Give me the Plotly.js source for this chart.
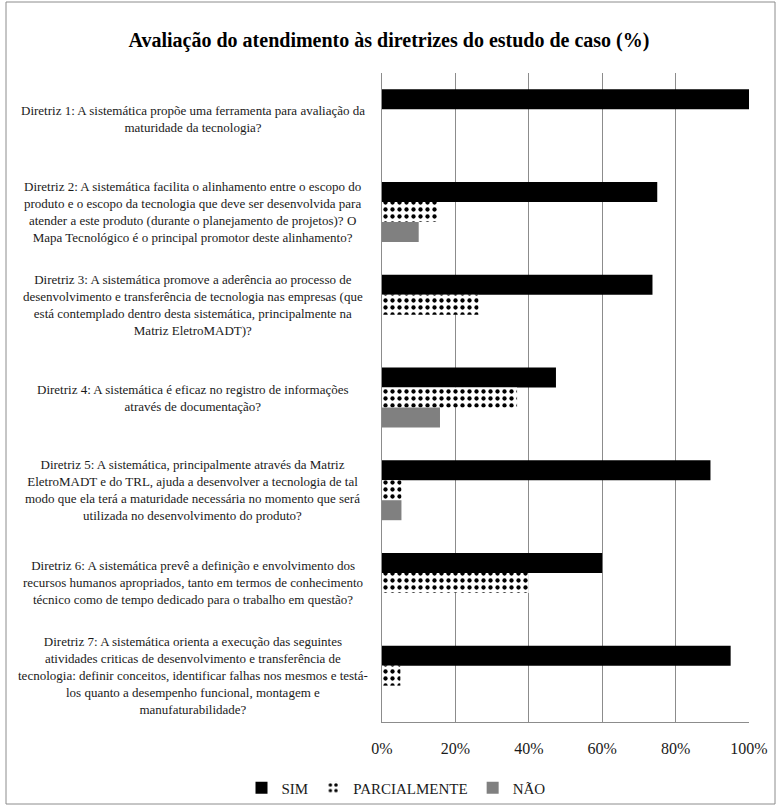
<!DOCTYPE html>
<html>
<head>
<meta charset="utf-8">
<script src="https://cdn.plot.ly/plotly-3.0.1.min.js"></script>
<style>html,body{margin:0;padding:0;background:#fff;}#chart{width:778px;height:807px;}</style>
</head>
<body>
<div id="chart"></div>
<script>
// Data
const categories = ["D1", "D2", "D3", "D4", "D5", "D6", "D7"];
const categoryLabels = [
  "Diretriz 1: A sistemática propõe uma ferramenta para avaliação da<br>maturidade da tecnologia?",
  "Diretriz 2: A sistemática facilita o alinhamento entre o escopo do<br>produto e o escopo da tecnologia que deve ser desenvolvida para<br>atender a este produto (durante o planejamento de projetos)? O<br>Mapa Tecnológico é o principal promotor deste alinhamento?",
  "Diretriz 3: A sistemática promove a aderência ao processo de<br>desenvolvimento e transferência de tecnologia nas empresas (que<br>está contemplado dentro desta sistemática, principalmente na<br>Matriz EletroMADT)?",
  "Diretriz 4: A sistemática é eficaz no registro de informações<br>através de documentação?",
  "Diretriz 5: A sistemática, principalmente através da Matriz<br>EletroMADT e do TRL, ajuda a desenvolver a tecnologia de tal<br>modo que ela terá a maturidade necessária no momento que será<br>utilizada no desenvolvimento do produto?",
  "Diretriz 6: A sistemática prevê a definição e envolvimento dos<br>recursos humanos apropriados, tanto em termos de conhecimento<br>técnico como de tempo dedicado para o trabalho em questão?",
  "Diretriz 7: A sistemática orienta a execução das seguintes<br>atividades criticas de desenvolvimento e transferência de<br>tecnologia: definir conceitos, identificar falhas nos mesmos e testá-<br>los quanto a desempenho funcional, montagem e<br>manufaturabilidade?"
];
const sim = [100, 75, 73.7, 47.4, 89.5, 60, 95];
const parcialmente = [0, 15, 26.3, 36.8, 5.3, 40, 5];
const nao = [0, 10, 0, 15.8, 5.3, 0, 0];
const seriesNames = ["SIM", "PARCIALMENTE", "NÃO"];
const xTickVals = [0, 20, 40, 60, 80, 100];
const xTickText = ["0%", "20%", "40%", "60%", "80%", "100%"];

// Layout geometry (pixels)
const W = 778, H = 807;
const PL = 382, PR = 749, PT = 73, PB = 722;
const pw = PR - PL, ph = PB - PT;
const px2x = p => (p - PL) / pw;
const py2y = p => (PB - p) / ph;

const serif = "'Liberation Serif', 'Times New Roman', Tinos, 'DejaVu Serif', serif";

const traces = [
  {type: "bar", orientation: "h", name: seriesNames[0], y: categories, x: sim,
   marker: {color: "#000000"}, hoverinfo: "x"},
  {type: "bar", orientation: "h", name: seriesNames[1], y: categories, x: parcialmente,
   marker: {color: "#ffffff", pattern: {shape: ".", fgcolor: "#000000", bgcolor: "#ffffff", size: 7, solidity: 0.3, fillmode: "replace"}}, hoverinfo: "x"},
  {type: "bar", orientation: "h", name: seriesNames[2], y: categories, x: nao,
   marker: {color: "#808080"}, hoverinfo: "x"}
];

const annotations = categories.map((c, i) => ({
  xref: "paper", yref: "y", x: px2x(193), y: c,
  xanchor: "center", yanchor: "middle", align: "center",
  text: categoryLabels[i], showarrow: false,
  font: {family: serif, size: 13, color: "#1a1a1a"}
}));

const layout = {
  width: W, height: H,
  margin: {l: PL, r: W - PR, t: PT, b: H - PB, pad: 0, autoexpand: false},
  paper_bgcolor: "#ffffff", plot_bgcolor: "#ffffff",
  font: {family: serif},
  title: {text: "<b>Avaliação do atendimento às diretrizes do estudo de caso (%)</b>",
    x: 0.5, xref: "container", xanchor: "center", y: 1 - 40 / H, yref: "container", yanchor: "middle",
    font: {family: serif, size: 20, color: "#000000"}},
  barmode: "group", bargap: 0.353, bargroupgap: 0,
  xaxis: {range: [0, 100], tickmode: "array", tickvals: xTickVals, ticktext: xTickText, showgrid: true, gridcolor: "#8c8c8c", gridwidth: 1,
    showline: true, linecolor: "#8c8c8c", linewidth: 1, ticks: "", zeroline: false, automargin: false,
    tickfont: {family: serif, size: 16, color: "#1a1a1a"}, ticklabelstandoff: 12, fixedrange: true},
  yaxis: {type: "category", autorange: "reversed", showticklabels: false, showgrid: false, ticks: "",
    showline: true, linecolor: "#8c8c8c", linewidth: 1, zeroline: false, automargin: false, fixedrange: true},
  legend: {orientation: "h", xref: "container", yref: "container", x: 396 / W, xanchor: "center", y: 1 - 788 / H, yanchor: "middle",
    itemwidth: 30, bgcolor: "rgba(0,0,0,0)", font: {family: serif, size: 15, color: "#1a1a1a"}, traceorder: "normal", itemclick: false},
  showlegend: true,
  annotations: annotations,
  shapes: [{type: "rect", xref: "paper", yref: "paper",
    x0: px2x(6), x1: px2x(775), y0: py2y(804), y1: py2y(2),
    line: {color: "#8c8c8c", width: 1}, fillcolor: "rgba(0,0,0,0)", layer: "below"}]
};

Plotly.newPlot("chart", traces, layout, {displayModeBar: false, staticPlot: true});
</script>
</body>
</html>
